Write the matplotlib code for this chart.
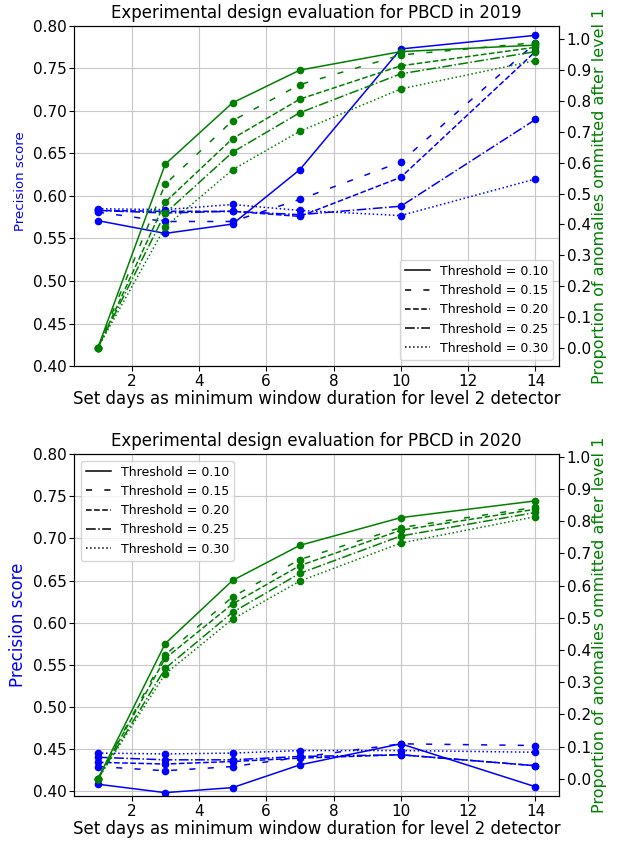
import matplotlib
matplotlib.use("Agg")
import matplotlib.pyplot as plt
from matplotlib.lines import Line2D

days = [1, 3, 5, 7, 10, 14]
thresholds = ["0.10", "0.15", "0.20", "0.25", "0.30"]
styles = ["-", (0, (4, 8)), "--", "-.", ":"]

# 2019 precision (left axis)
prec_2019_010 = [0.571, 0.556, 0.567, 0.631, 0.773, 0.789]
prec_2019_015 = [0.581, 0.570, 0.570, 0.596, 0.640, 0.780]
prec_2019_020 = [0.583, 0.582, 0.582, 0.576, 0.622, 0.770]
prec_2019_025 = [0.583, 0.580, 0.582, 0.578, 0.588, 0.690]
prec_2019_030 = [0.585, 0.584, 0.590, 0.583, 0.577, 0.620]

# 2019 proportion omitted (right axis)
prop_2019_010 = [0.0, 0.595, 0.794, 0.900, 0.960, 0.981]
prop_2019_015 = [0.0, 0.530, 0.736, 0.853, 0.949, 0.989]
prop_2019_020 = [0.0, 0.472, 0.678, 0.806, 0.914, 0.974]
prop_2019_025 = [0.0, 0.436, 0.634, 0.762, 0.888, 0.960]
prop_2019_030 = [0.0, 0.392, 0.577, 0.702, 0.839, 0.931]

# 2020 precision (left axis)
prec_2020_010 = [0.408, 0.398, 0.404, 0.431, 0.456, 0.405]
prec_2020_015 = [0.429, 0.424, 0.429, 0.440, 0.456, 0.454]
prec_2020_020 = [0.434, 0.432, 0.435, 0.439, 0.443, 0.430]
prec_2020_025 = [0.440, 0.437, 0.437, 0.441, 0.443, 0.430]
prec_2020_030 = [0.445, 0.444, 0.445, 0.448, 0.448, 0.446]

# 2020 proportion omitted (right axis)
prop_2020_010 = [0.0, 0.420, 0.616, 0.725, 0.811, 0.863]
prop_2020_015 = [0.0, 0.385, 0.565, 0.681, 0.780, 0.843]
prop_2020_020 = [0.0, 0.374, 0.543, 0.662, 0.772, 0.837]
prop_2020_025 = [0.0, 0.343, 0.517, 0.638, 0.754, 0.827]
prop_2020_030 = [0.0, 0.326, 0.496, 0.614, 0.732, 0.814]

prec_2019 = [prec_2019_010, prec_2019_015, prec_2019_020, prec_2019_025, prec_2019_030]
prop_2019 = [prop_2019_010, prop_2019_015, prop_2019_020, prop_2019_025, prop_2019_030]
prec_2020 = [prec_2020_010, prec_2020_015, prec_2020_020, prec_2020_025, prec_2020_030]
prop_2020 = [prop_2020_010, prop_2020_015, prop_2020_020, prop_2020_025, prop_2020_030]


def panel(fig, rect, year, prec, prop, ylim1, ylim2, legend_loc, ylab_size, ylab_y):
    ax1 = fig.add_axes(rect)
    for vals, ls in zip(prec, styles):
        ax1.plot(days, vals, color="b", linestyle=ls, marker="o", ms=4.5, lw=1.1)
    ax1.set_ylim(*ylim1)
    ax1.set_xlim(0.3, 14.7)
    ax1.grid(True, color="#c8c8c8")
    ax1.tick_params(labelsize=11, pad=2)
    ax1.set_ylabel("Precision score", color="b", fontsize=ylab_size)
    ax1.yaxis.set_label_coords(-0.098, ylab_y)
    ax1.set_xlabel("Set days as minimum window duration for level 2 detector",
                   fontsize=12, labelpad=1)
    ax1.set_title("Experimental design evaluation for PBCD in %d" % year, fontsize=12)

    ax2 = ax1.twinx()
    for vals, ls in zip(prop, styles):
        ax2.plot(days, vals, color="g", linestyle=ls, marker="o", ms=4.5, lw=1.1)
    ax2.set_ylim(*ylim2)
    ax2.set_yticks([i / 10 for i in range(11)])
    ax2.tick_params(labelsize=11, pad=2)
    ax2.set_ylabel("Proportion of anomalies ommitted after level 1", color="g",
                   fontsize=11.5, labelpad=1)

    handles = [Line2D([], [], color="k", linestyle=ls, lw=1.1) for ls in styles]
    labels = ["Threshold = %s" % t for t in thresholds]
    ax2.legend(handles, labels, loc=legend_loc, fontsize=9)
    return ax1, ax2


fig = plt.figure(figsize=(6.23, 8.41), dpi=100)
panel(fig, [0.1193, 0.5648, 0.778, 0.4043], 2019, prec_2019, prop_2019,
      (0.40, 0.80), (-0.059, 1.043), "lower right", 9.5, 0.544)
panel(fig, [0.1193, 0.0535, 0.778, 0.4063], 2020, prec_2020, prop_2020,
      (0.394, 0.80), (-0.053, 1.0075), "upper left", 12, 0.5)

fig.savefig("out.png", dpi=100)
